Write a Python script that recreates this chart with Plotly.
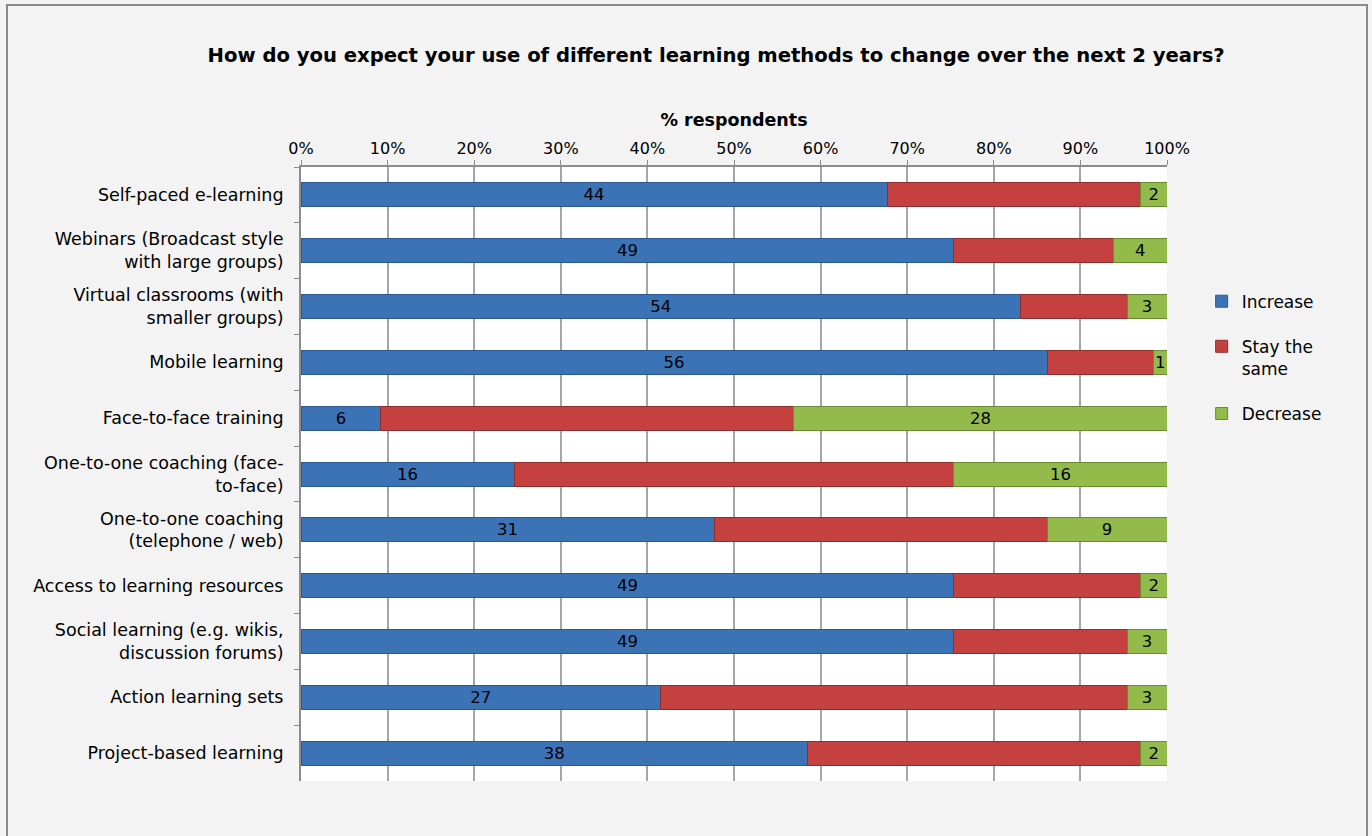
import plotly.graph_objects as go

# Survey question: expected change in use of learning methods (number of respondents)
methods = [
    "Self-paced e-learning",
    "Webinars (Broadcast style<br>with large groups)",
    "Virtual classrooms (with<br>smaller groups)",
    "Mobile learning",
    "Face-to-face training",
    "One-to-one coaching (face-<br>to-face)",
    "One-to-one coaching<br>(telephone / web)",
    "Access to learning resources",
    "Social learning (e.g. wikis,<br>discussion forums)",
    "Action learning sets",
    "Project-based learning",
]
increase = [44, 49, 54, 56, 6, 16, 31, 49, 49, 27, 38]
stay_same = [19, 12, 8, 8, 31, 33, 25, 14, 13, 35, 25]
decrease = [2, 4, 3, 1, 28, 16, 9, 2, 3, 3, 2]

x_ticks = list(range(0, 101, 10))

FONT = "'DejaVu Sans', sans-serif"
BLUE = "#3b73b6"
RED = "#c4413f"
GREEN = "#92bb4b"

fig = go.Figure()

series = [
    ("Increase", increase, BLUE, "#2c5a8f", True),
    ("Stay the<br>same", stay_same, RED, "#8f2f2d", False),
    ("Decrease", decrease, GREEN, "#6a8a33", True),
]
for i, (name, vals, col, edge, labelled) in enumerate(series):
    fig.add_trace(go.Bar(
        y=methods,
        x=vals,
        name=name,
        orientation="h",
        legendgroup=f"g{i}",
        marker=dict(color=col, line=dict(color=edge, width=1)),
        text=[str(v) for v in vals] if labelled else None,
        textposition="inside" if labelled else "none",
        insidetextanchor="middle",
        textangle=0,
        constraintext="none",
        textfont=dict(color="black", size=16.5, family=FONT),
        cliponaxis=False,
        hoverinfo="x+y+name",
    ))

fig.update_layout(
    barmode="stack",
    barnorm="percent",
    bargap=0.57,
    width=1372,
    height=836,
    margin=dict(l=301, r=205, t=167, b=55),
    paper_bgcolor="#f2f3f2",
    plot_bgcolor="white",
    font=dict(family=FONT, size=16, color="black"),
    uniformtext=dict(minsize=16, mode="show"),
    title=dict(
        text="<b>How do you expect your use of different learning methods to change over the next 2 years?</b>",
        x=0.522, xanchor="center",
        y=0.934, yanchor="middle",
        font=dict(size=19.6, family=FONT, color="black"),
    ),
    legend=dict(
        x=1.04, xanchor="left",
        y=0.81, yanchor="top",
        tracegroupgap=20,
        valign="top",
        font=dict(size=17, family=FONT),
        bgcolor="rgba(0,0,0,0)",
        itemclick=False,
    ),
    xaxis=dict(
        side="top",
        range=[0, 100.0001],
        tickvals=x_ticks,
        ticktext=[f"{v}%" for v in x_ticks],
        showgrid=True,
        gridcolor="#a6a6a6",
        gridwidth=1.5,
        showline=True,
        linecolor="#8c8c8c",
        linewidth=2,
        ticks="outside",
        ticklen=5,
        tickcolor="#8c8c8c",
        tickfont=dict(size=16, family=FONT),
        zeroline=False,
        title=dict(text="<b>% respondents</b>", font=dict(size=17.5, family=FONT), standoff=7),
        fixedrange=True,
    ),
    yaxis=dict(
        autorange="reversed",
        showline=True,
        linecolor="#8c8c8c",
        linewidth=2,
        ticks="outside",
        tickson="boundaries",
        ticklen=5,
        tickcolor="#8c8c8c",
        tickfont=dict(size=17.5, family=FONT),
        ticklabelstandoff=12,
        showgrid=False,
        fixedrange=True,
    ),
    shapes=[
        dict(
            type="rect", xref="paper", yref="paper",
            x0=(7 - 301) / 866, x1=(1367 - 301) / 866,
            y0=-0.2, y1=1 + (167 - 5) / 614,
            line=dict(color="#8a8a8a", width=2),
            fillcolor="rgba(0,0,0,0)",
            layer="below",
        )
    ],
)

fig.write_html("out.html")
